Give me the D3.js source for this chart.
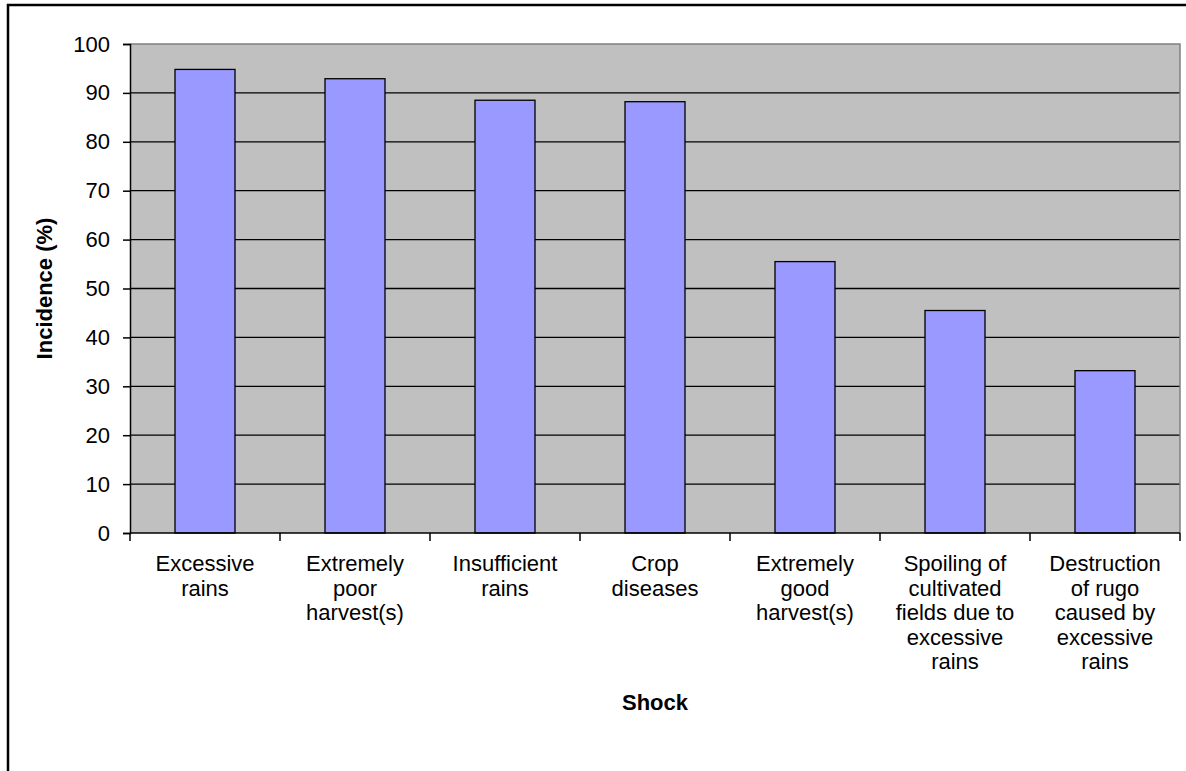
<!DOCTYPE html>
<html>
<head>
<meta charset="utf-8">
<script src="https://cdn.jsdelivr.net/npm/d3@7"></script>
<style>
  html, body { margin: 0; padding: 0; background: #fff; }
  svg { display: block; }
  text { font-family: "Liberation Sans", Arial, sans-serif; fill: #000; }
</style>
</head>
<body>
<svg id="chart" width="1186" height="771"></svg>
<script>
// Shock categories (line breaks mark the wrapped axis labels)
const categories = [
  "Excessive\nrains",
  "Extremely\npoor\nharvest(s)",
  "Insufficient\nrains",
  "Crop\ndiseases",
  "Extremely\ngood\nharvest(s)",
  "Spoiling of\ncultivated\nfields due to\nexcessive\nrains",
  "Destruction\nof rugo\ncaused by\nexcessive\nrains"
];
// Incidence of each shock, in percent
const incidence = [94.8, 92.9, 88.5, 88.2, 55.5, 45.5, 33.2];
const yTicks = [0, 10, 20, 30, 40, 50, 60, 70, 80, 90, 100];
const yTitle = "Incidence (%)";
const xTitle = "Shock";

const svg = d3.select("#chart");
const plot = { left: 130, top: 44, right: 1180, bottom: 533 };
const fontSize = 22;

// Outer chart frame
svg.append("rect")
  .attr("x", 8).attr("y", 5)
  .attr("width", 1200).attr("height", 800)
  .attr("fill", "#fff")
  .attr("stroke", "#000")
  .attr("stroke-width", 2.5);

const x = d3.scaleBand()
  .domain(categories)
  .range([plot.left, plot.right])
  .paddingInner(0.6)
  .paddingOuter(0.3);

const band = d3.scaleBand()
  .domain(categories)
  .range([plot.left, plot.right]);

const y = d3.scaleLinear()
  .domain([0, 100])
  .range([plot.bottom, plot.top]);

// Plot area background
svg.append("rect")
  .attr("x", plot.left).attr("y", plot.top)
  .attr("width", plot.right - plot.left)
  .attr("height", plot.bottom - plot.top)
  .attr("fill", "#c0c0c0");

// Horizontal gridlines
svg.append("g")
  .selectAll("line")
  .data(yTicks.filter(d => d > 0 && d < 100))
  .join("line")
  .attr("x1", plot.left).attr("x2", plot.right)
  .attr("y1", d => y(d)).attr("y2", d => y(d))
  .attr("stroke", "#000")
  .attr("stroke-width", 1.3);

// Plot area top and right edges
svg.append("path")
  .attr("d", `M${plot.left},${plot.top}H${plot.right}V${plot.bottom}`)
  .attr("fill", "none")
  .attr("stroke", "#808080")
  .attr("stroke-width", 1.5);

// Bars
svg.append("g")
  .selectAll("rect")
  .data(incidence)
  .join("rect")
  .attr("x", (d, i) => x(categories[i]))
  .attr("y", d => y(d))
  .attr("width", x.bandwidth())
  .attr("height", d => y(0) - y(d))
  .attr("fill", "#9999ff")
  .attr("stroke", "#000")
  .attr("stroke-width", 1.3);

// Y axis
const yAxis = svg.append("g")
  .attr("transform", `translate(${plot.left},0)`)
  .call(d3.axisLeft(y).tickValues(yTicks).tickSize(7).tickPadding(13).tickFormat(d3.format("d")));
yAxis.select(".domain").attr("stroke", "#000").attr("stroke-width", 1.5);
yAxis.selectAll(".tick line").attr("stroke", "#000").attr("stroke-width", 1.5);
yAxis.selectAll(".tick text")
  .style("font-family", "'Liberation Sans', Arial, sans-serif")
  .style("font-size", fontSize + "px")
  .attr("fill", "#000");

// X axis with ticks at category boundaries
const xAxisG = svg.append("g");
xAxisG.append("line")
  .attr("x1", plot.left).attr("x2", plot.right)
  .attr("y1", plot.bottom).attr("y2", plot.bottom)
  .attr("stroke", "#000").attr("stroke-width", 1.5);
const boundaries = categories.map(c => band(c)).concat([band(categories[categories.length - 1]) + band.bandwidth()]);
xAxisG.selectAll("line.tick")
  .data(boundaries)
  .join("line")
  .attr("class", "tick")
  .attr("x1", d => d).attr("x2", d => d)
  .attr("y1", plot.bottom).attr("y2", plot.bottom + 8)
  .attr("stroke", "#000").attr("stroke-width", 1.5);

// Category labels
const lineH = 24.5;
xAxisG.selectAll("text.cat")
  .data(categories)
  .join("text")
  .attr("class", "cat")
  .attr("text-anchor", "middle")
  .style("font-size", fontSize + "px")
  .attr("transform", d => `translate(${band(d) + band.bandwidth() / 2},${plot.bottom + 38})`)
  .selectAll("tspan")
  .data(d => d.split("\n"))
  .join("tspan")
  .attr("x", 0)
  .attr("y", (d, i) => i * lineH)
  .text(d => d);

// Axis titles
svg.append("text")
  .attr("transform", `translate(52,${(plot.top + plot.bottom) / 2}) rotate(-90)`)
  .attr("text-anchor", "middle")
  .style("font-size", fontSize + "px")
  .style("font-weight", "bold")
  .text(yTitle);

svg.append("text")
  .attr("x", (plot.left + plot.right) / 2)
  .attr("y", 710)
  .attr("text-anchor", "middle")
  .style("font-size", fontSize + "px")
  .style("font-weight", "bold")
  .text(xTitle);
</script>
</body>
</html>
